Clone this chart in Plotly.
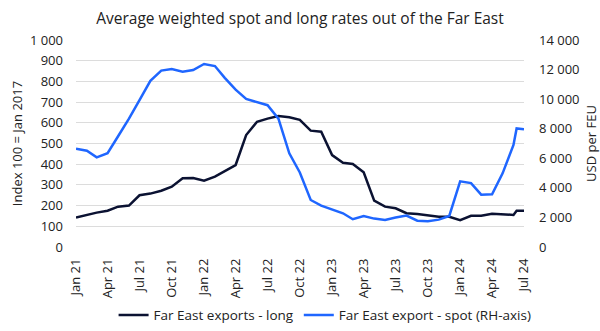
import plotly.graph_objects as go

# Monthly observation dates (an extra mid-June 2024 reading before the July point)
dates = [
    "2021-01-01", "2021-02-01", "2021-03-01", "2021-04-01", "2021-05-01", "2021-06-01",
    "2021-07-01", "2021-08-01", "2021-09-01", "2021-10-01", "2021-11-01", "2021-12-01",
    "2022-01-01", "2022-02-01", "2022-03-01", "2022-04-01", "2022-05-01", "2022-06-01",
    "2022-07-01", "2022-08-01", "2022-09-01", "2022-10-01", "2022-11-01", "2022-12-01",
    "2023-01-01", "2023-02-01", "2023-03-01", "2023-04-01", "2023-05-01", "2023-06-01",
    "2023-07-01", "2023-08-01", "2023-09-01", "2023-10-01", "2023-11-01", "2023-12-01",
    "2024-01-01", "2024-02-01", "2024-03-01", "2024-04-01", "2024-05-01", "2024-06-01",
    "2024-06-10", "2024-07-01",
]

# Far East exports - long contract rates, index (100 = Jan 2017)
long_index = [
    142, 156, 166, 175, 195, 200,
    250, 258, 272, 291, 332, 333,
    320, 340, 367, 396, 541, 605,
    620, 633, 627, 614, 562, 557,
    444, 407, 401, 361, 224, 195,
    187, 163, 159, 151, 146, 146,
    130, 151, 151, 161, 159, 155,
    175, 175,
]

# Far East export - spot rates, USD per FEU
spot_usd = [
    6650, 6510, 6060, 6340, 7490, 8680,
    9940, 11240, 11930, 12040, 11860, 11970,
    12380, 12240, 11440, 10640, 10010, 9800,
    9590, 8680, 6340, 5040, 3180, 2800,
    2520, 2280, 1880, 2100, 1920, 1830,
    1990, 2130, 1780, 1740, 1850, 2100,
    4440, 4320, 3540, 3560, 4980, 6900,
    8020, 7970,
]

title_text = "Average weighted spot and long rates out of the Far East"
left_title = "Index 100 = Jan 2017"
right_title = "USD per FEU"
long_name = "Far East exports - long"
spot_name = "Far East export - spot (RH-axis)"

NAVY = "#0b1232"
BLUE = "#1f66ff"
TEXT = "#222222"
FONT = "Open Sans"
TICK = 13

fig = go.Figure()
fig.add_trace(go.Scatter(
    x=dates, y=long_index, name=long_name, mode="lines",
    line=dict(color=NAVY, width=2.5), yaxis="y",
))
fig.add_trace(go.Scatter(
    x=dates, y=spot_usd, name=spot_name, mode="lines",
    line=dict(color=BLUE, width=2.5), yaxis="y2",
))

fig.update_layout(
    width=600, height=331,
    margin=dict(l=76, r=76, t=40, b=84, autoexpand=False),
    paper_bgcolor="white", plot_bgcolor="white",
    font=dict(family=FONT, size=TICK, color=TEXT),
    separators=". ",
    title=dict(text=title_text, x=0.5, xanchor="center",
               yref="container", y=0.943, yanchor="middle",
               font=dict(family=FONT, size=15.5, color=TEXT)),
    showlegend=True,
    legend=dict(orientation="h", x=0.556, xanchor="center",
                yref="container", y=0.048, yanchor="middle",
                font=dict(family=FONT, size=13.5, color=TEXT), itemwidth=30,
                traceorder="normal"),
    xaxis=dict(
        type="date", range=["2021-01-01", "2024-07-01"],
        tick0="2021-01-01", dtick="M3", tickformat="%b %y", tickangle=-90,
        showgrid=False, showline=False, zeroline=False, ticks="",
        ticklabelstandoff=8, tickfont=dict(size=TICK),
    ),
    yaxis=dict(
        range=[0, 1000], dtick=100, tickformat=",d",
        showgrid=True, gridcolor="#dcdcdc", gridwidth=1,
        zeroline=False, showline=False, ticks="",
        ticklabelstandoff=12,
        title=dict(text=left_title, standoff=4, font=dict(size=TICK)),
        tickfont=dict(size=TICK),
    ),
    yaxis2=dict(
        overlaying="y", side="right", range=[0, 14000], dtick=2000,
        tickformat=",d", showgrid=False, zeroline=False,
        showline=False, ticks="", ticklabelstandoff=14,
        title=dict(text=right_title, standoff=12, font=dict(size=TICK)),
        tickfont=dict(size=TICK),
    ),
)

fig.write_html("out.html")
